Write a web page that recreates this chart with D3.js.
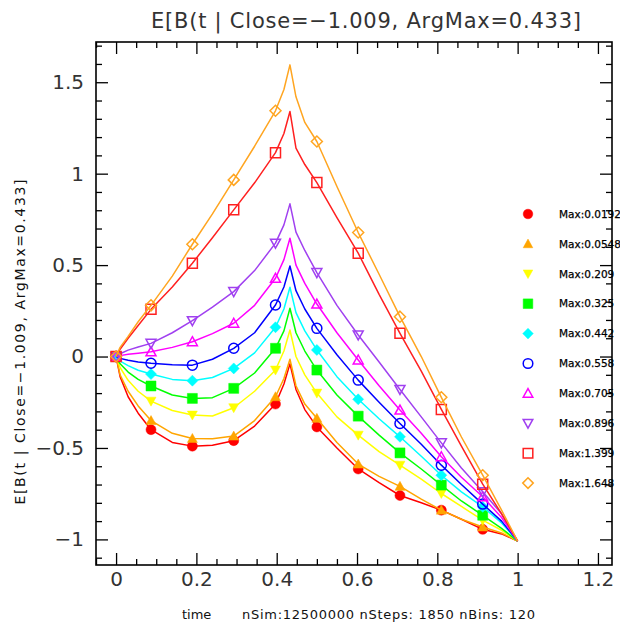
<!DOCTYPE html>
<html><head><meta charset="utf-8">
<script src="https://cdn.jsdelivr.net/npm/d3@7"></script>
<style>html,body{margin:0;padding:0;background:#fff;} svg{display:block;}</style>
</head><body>
<svg id="chart" width="620" height="624"></svg>
<script>
// ---- data ----
const times = [0, 0.01, 0.03, 0.055, 0.087, 0.14, 0.19, 0.24, 0.293, 0.345, 0.397, 0.418, 0.433, 0.448, 0.47, 0.5, 0.55, 0.603, 0.655, 0.707, 0.76, 0.81, 0.86, 0.913, 0.96, 1];
const markerTimes = [0, 0.087, 0.19, 0.293, 0.397, 0.5, 0.603, 0.707, 0.81, 0.913];
const seriesNames = ["Max:0.0192", "Max:0.0548", "Max:0.209", "Max:0.325", "Max:0.442", "Max:0.558", "Max:0.705", "Max:0.896", "Max:1.399", "Max:1.648"];
const max0192 = [0, -0.11, -0.22, -0.31, -0.40, -0.47, -0.49, -0.485, -0.46, -0.38, -0.26, -0.15, -0.04, -0.18, -0.29, -0.385, -0.50, -0.615, -0.69, -0.76, -0.80, -0.84, -0.89, -0.945, -0.97, -1.009];
const max0548 = [0, -0.10, -0.19, -0.27, -0.35, -0.42, -0.448, -0.45, -0.435, -0.35, -0.22, -0.12, -0.015, -0.16, -0.26, -0.338, -0.47, -0.588, -0.655, -0.71, -0.78, -0.84, -0.89, -0.932, -0.965, -1.009];
const max209 = [0, -0.06, -0.13, -0.19, -0.244, -0.295, -0.32, -0.325, -0.28, -0.19, -0.074, 0.03, 0.145, 0.0, -0.1, -0.2, -0.33, -0.43, -0.52, -0.594, -0.67, -0.749, -0.82, -0.895, -0.95, -1.009];
const max325 = [0, -0.04, -0.085, -0.125, -0.161, -0.21, -0.229, -0.225, -0.174, -0.09, 0.045, 0.14, 0.264, 0.13, 0.03, -0.074, -0.21, -0.326, -0.43, -0.527, -0.615, -0.703, -0.79, -0.868, -0.94, -1.009];
const max442 = [0, -0.025, -0.05, -0.075, -0.096, -0.125, -0.132, -0.115, -0.065, 0.02, 0.16, 0.26, 0.379, 0.24, 0.14, 0.036, -0.11, -0.234, -0.34, -0.439, -0.545, -0.649, -0.74, -0.822, -0.91, -1.009];
const max558 = [0, -0.01, -0.02, -0.03, -0.037, -0.045, -0.047, -0.015, 0.045, 0.13, 0.282, 0.38, 0.495, 0.36, 0.26, 0.154, 0.01, -0.129, -0.25, -0.366, -0.48, -0.594, -0.7, -0.807, -0.9, -1.009];
const max705 = [0, 0.005, 0.012, 0.018, 0.026, 0.05, 0.081, 0.125, 0.182, 0.28, 0.428, 0.53, 0.647, 0.5, 0.4, 0.287, 0.13, -0.019, -0.16, -0.293, -0.42, -0.548, -0.66, -0.767, -0.88, -1.009];
const max896 = [0, 0.015, 0.035, 0.052, 0.072, 0.13, 0.196, 0.27, 0.355, 0.47, 0.62, 0.72, 0.835, 0.68, 0.58, 0.459, 0.28, 0.118, -0.03, -0.18, -0.33, -0.472, -0.61, -0.74, -0.86, -1.009];
const max1399 = [0, 0.04, 0.1, 0.17, 0.258, 0.38, 0.51, 0.65, 0.802, 0.95, 1.115, 1.22, 1.34, 1.14, 1.05, 0.951, 0.76, 0.565, 0.34, 0.127, -0.08, -0.289, -0.49, -0.698, -0.86, -1.009];
const max1648 = [0, 0.05, 0.11, 0.19, 0.28, 0.44, 0.614, 0.78, 0.966, 1.15, 1.344, 1.46, 1.595, 1.42, 1.28, 1.176, 0.93, 0.678, 0.45, 0.218, 0.0, -0.223, -0.44, -0.649, -0.84, -1.009];
const xTicks = [0, 0.2, 0.4, 0.6, 0.8, 1, 1.2];
const xTickLabels = ["0", "0.2", "0.4", "0.6", "0.8", "1", "1.2"];
const yTicks = [-1, -0.5, 0, 0.5, 1, 1.5];
const yTickLabels = ["\u22121", "\u22120.5", "0", "0.5", "1", "1.5"];
const titleText = "E[B(t | Close=\u22121.009, ArgMax=0.433]";
const xLabelA = "time";
const xLabelB = "nSim:12500000 nSteps: 1850 nBins: 120";

// ---- styles ----
const colors = ["#ff0000", "#ffa500", "#ffff00", "#00ff00", "#00ffff", "#0000ff", "#ff00ff", "#a040f0", "#ff2020", "#ffa520"];
const shapes = ["circle", "triUp", "triDown", "square", "diamond", "circle", "triUp", "triDown", "square", "diamond"];
const filled = [true, true, true, true, true, false, false, false, false, false];
const seriesValues = [max0192, max0548, max209, max325, max442, max558, max705, max896, max1399, max1648];

const L = 96, R = 612, T = 42, B = 565;
const x = d3.scaleLinear().domain([-0.05, 1.235]).range([L, R]);
const y = d3.scaleLinear().domain([-1.14, 1.72]).range([B, T]);
const svg = d3.select("#chart");
const FONT = "'DejaVu Sans', 'Liberation Sans', sans-serif";

function markerPath(type, r) {
  switch (type) {
    case "circle": return `M${r},0A${r},${r} 0 1,1 ${-r},0A${r},${r} 0 1,1 ${r},0Z`;
    case "square": return `M${-r},${-r}H${r}V${r}H${-r}Z`;
    case "triUp": return `M0,${-r}L${r},${r*0.8}L${-r},${r*0.8}Z`;
    case "triDown": return `M0,${r}L${r},${-r*0.8}L${-r},${-r*0.8}Z`;
    case "diamond": { const h = r*1.1; return `M0,${-h}L${h},0L0,${h}L${-h},0Z`; }
  }
}

// ---- axes / ticks ----
const xMinor = d3.range(-0.05, 1.236, 0.05).filter(v => !xTicks.some(t => Math.abs(t - v) < 1e-6));
const yMinor = d3.range(-1.1, 1.71, 0.1).filter(v => !yTicks.some(t => Math.abs(t - v) < 1e-6));

function styleAxis(g) {
  g.select(".domain").remove();
  g.selectAll(".tick line").attr("stroke", "#000").attr("stroke-width", 1.3);
  g.selectAll("text").attr("font-family", FONT).attr("font-size", 20).attr("fill", "#333");
}
svg.append("g").attr("transform", `translate(0,${B})`)
  .call(d3.axisBottom(x).tickValues(xTicks).tickSizeInner(-12).tickSizeOuter(0).tickPadding(7).tickFormat((d, i) => xTickLabels[i]))
  .call(styleAxis);
svg.append("g").attr("transform", `translate(0,${B})`)
  .call(d3.axisBottom(x).tickValues(xMinor).tickSizeInner(-6).tickSizeOuter(0).tickFormat(""))
  .call(styleAxis);
svg.append("g").attr("transform", `translate(0,${T})`)
  .call(d3.axisTop(x).tickValues(xTicks).tickSizeInner(-12).tickSizeOuter(0).tickFormat(""))
  .call(styleAxis);
svg.append("g").attr("transform", `translate(0,${T})`)
  .call(d3.axisTop(x).tickValues(xMinor).tickSizeInner(-6).tickSizeOuter(0).tickFormat(""))
  .call(styleAxis);
svg.append("g").attr("transform", `translate(${L},0)`)
  .call(d3.axisLeft(y).tickValues(yTicks).tickSizeInner(-12).tickSizeOuter(0).tickPadding(12).tickFormat((d, i) => yTickLabels[i]))
  .call(styleAxis);
svg.append("g").attr("transform", `translate(${L},0)`)
  .call(d3.axisLeft(y).tickValues(yMinor).tickSizeInner(-6).tickSizeOuter(0).tickFormat(""))
  .call(styleAxis);
svg.append("g").attr("transform", `translate(${R},0)`)
  .call(d3.axisRight(y).tickValues(yTicks).tickSizeInner(-12).tickSizeOuter(0).tickFormat(""))
  .call(styleAxis);
svg.append("g").attr("transform", `translate(${R},0)`)
  .call(d3.axisRight(y).tickValues(yMinor).tickSizeInner(-6).tickSizeOuter(0).tickFormat(""))
  .call(styleAxis);

svg.append("rect").attr("x", L).attr("y", T).attr("width", R - L).attr("height", B - T)
  .attr("fill", "none").attr("stroke", "#000").attr("stroke-width", 1.6);

// ---- series ----
const line = d3.line().x(d => x(d.t)).y(d => y(d.v));
seriesValues.forEach((vals, i) => {
  const pts = times.map((t, k) => ({ t, v: vals[k] }));
  svg.append("path").datum(pts).attr("d", line)
    .attr("fill", "none").attr("stroke", colors[i]).attr("stroke-width", 1.5).attr("stroke-linejoin", "round");
  const mk = pts.filter(p => markerTimes.some(m => Math.abs(m - p.t) < 1e-9));
  svg.append("g").selectAll("path").data(mk).join("path")
    .attr("transform", d => `translate(${x(d.t)},${y(d.v)})`)
    .attr("d", markerPath(shapes[i], 5))
    .attr("fill", filled[i] ? colors[i] : "none")
    .attr("stroke", colors[i]).attr("stroke-width", filled[i] ? 0.5 : 1.5);
});

// ---- legend ----
const lg = svg.append("g");
seriesNames.forEach((name, i) => {
  const yy = 214 + i * 29.9;
  lg.append("path").attr("transform", `translate(528,${yy})`)
    .attr("d", markerPath(shapes[i], 4.8))
    .attr("fill", filled[i] ? colors[i] : "#fff")
    .attr("stroke", colors[i]).attr("stroke-width", filled[i] ? 0.5 : 1.5);
  lg.append("text").attr("x", 559).attr("y", yy).attr("dy", "0.36em")
    .attr("font-family", FONT).attr("font-size", 10.5).attr("fill", "#000")
    .attr("stroke", "#000").attr("stroke-width", 0.25)
    .text(name);
});

// ---- titles ----
svg.append("text").attr("x", 366).attr("y", 28).attr("text-anchor", "middle")
  .attr("font-family", FONT).attr("font-size", 21).attr("fill", "#333")
  .attr("textLength", 430).attr("lengthAdjust", "spacing")
  .text(titleText);
svg.append("text").attr("x", 182).attr("y", 619)
  .attr("font-family", FONT).attr("font-size", 13).attr("fill", "#111")
  .text(xLabelA);
svg.append("text").attr("x", 242).attr("y", 619)
  .attr("font-family", FONT).attr("font-size", 13).attr("fill", "#111")
  .attr("textLength", 293).attr("lengthAdjust", "spacing")
  .text(xLabelB);
svg.append("text").attr("transform", "translate(25,342) rotate(-90)").attr("text-anchor", "middle")
  .attr("font-family", FONT).attr("font-size", 14).attr("fill", "#111")
  .attr("textLength", 325).attr("lengthAdjust", "spacing")
  .text(titleText);
</script>
</body></html>
